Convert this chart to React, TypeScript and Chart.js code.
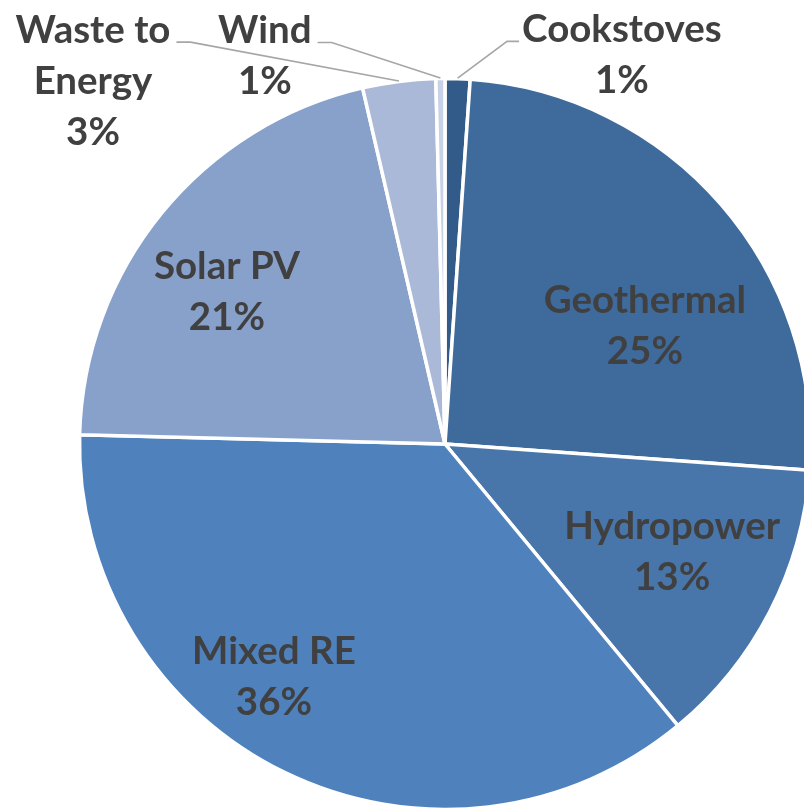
import React, { useEffect, useRef } from "react";
import { Chart, registerables } from "chart.js";
Chart.register(...registerables);

const categories = ["Cookstoves", "Geothermal", "Hydropower", "Mixed RE", "Solar PV", "Waste to Energy", "Wind"];
const shares = [1.1, 25.05, 12.86, 36.4, 20.98, 3.22, 0.4];
const percentLabels = ["1%", "25%", "13%", "36%", "21%", "3%", "1%"];
const labelLines = [["Cookstoves"], ["Geothermal"], ["Hydropower"], ["Mixed RE"], ["Solar PV"], ["Waste to", "Energy"], ["Wind"]];
const colors = ["#335b8a", "#3f6a9c", "#4876ab", "#4f81bd", "#87a1cb", "#abb9d9", "#c8d2e6"];

// label block centre, relative to pie centre in units of the radius; leader = side where the leader line attaches
const labelPlacement = [
  { fx: 0.486, fy: -1.069, leader: "left" },
  { fx: 0.549, fy: -0.324, leader: "" },
  { fx: 0.624, fy: 0.297, leader: "" },
  { fx: -0.47, fy: 0.64, leader: "" },
  { fx: -0.599, fy: -0.418, leader: "" },
  { fx: -0.967, fy: -0.997, leader: "right" },
  { fx: -0.495, fy: -1.066, leader: "right" },
];

const FONT = "bold 38.5px Lato";
const LINE_H = 51;

const labelPlugin = {
  id: "pieLabels",
  afterDatasetsDraw(chart: any) {
    const ctx = chart.ctx;
    const meta = chart.getDatasetMeta(0);
    ctx.save();
    ctx.font = FONT;
    ctx.textAlign = "center";
    ctx.textBaseline = "middle";
    meta.data.forEach((arc: any, i: number) => {
      const { x: cx, y: cy, startAngle, endAngle, outerRadius } = arc.getProps(["x", "y", "startAngle", "endAngle", "outerRadius"], true);
      const R = outerRadius - 1.5;
      const p = labelPlacement[i];
      const lx = cx + p.fx * R;
      const ly = cy + p.fy * R;
      const lines = [...labelLines[i], percentLabels[i]];
      const top = ly - ((lines.length - 1) * LINE_H) / 2;
      if (p.leader) {
        const mid = (startAngle + endAngle) / 2;
        const sx = cx + Math.cos(mid) * (R + 2);
        const sy = cy + Math.sin(mid) * (R + 2);
        const w = ctx.measureText(lines[0]).width;
        const yLine = top + 12;
        let ex, bx;
        if (p.leader === "left") {
          ex = lx - w / 2 - 3;
          bx = ex - 12;
        } else {
          ex = lx + w / 2 + 6;
          bx = ex + 14;
        }
        ctx.strokeStyle = "#a6a6a6";
        ctx.lineWidth = 1.6;
        ctx.beginPath();
        ctx.moveTo(sx, sy);
        ctx.lineTo(bx, yLine);
        ctx.lineTo(ex, yLine);
        ctx.stroke();
      }
      ctx.fillStyle = "#404040";
      lines.forEach((t, k) => {
        ctx.fillText(t, lx, top + k * LINE_H);
      });
    });
    ctx.restore();
  },
};

export default function App() {
  const ref = useRef<HTMLCanvasElement | null>(null);
  useEffect(() => {
    document.documentElement.style.overflow = "hidden";
    document.body.style.margin = "0";
    const chart = new Chart(ref.current as HTMLCanvasElement, {
      type: "pie",
      data: {
        labels: categories,
        datasets: [
          {
            data: shares,
            backgroundColor: colors,
            borderColor: "#ffffff",
            borderWidth: 3.5,
          },
        ],
      },
      options: {
        responsive: false,
        animation: false,
        radius: 365.5,
        layout: { padding: 0 },
        plugins: { legend: { display: false }, tooltip: { enabled: false } },
      },
      plugins: [labelPlugin],
    });
    if ((document as any).fonts && (document as any).fonts.load) {
      (document as any).fonts.load(FONT).then(() => chart.update()).catch(() => {});
    }
    return () => chart.destroy();
  }, []);
  return (
    <div style={{ position: "relative", width: 804, height: 808, overflow: "hidden" }}>
      <canvas ref={ref} width={874} height={872} style={{ position: "absolute", left: 8, top: 8 }} />
    </div>
  );
}
